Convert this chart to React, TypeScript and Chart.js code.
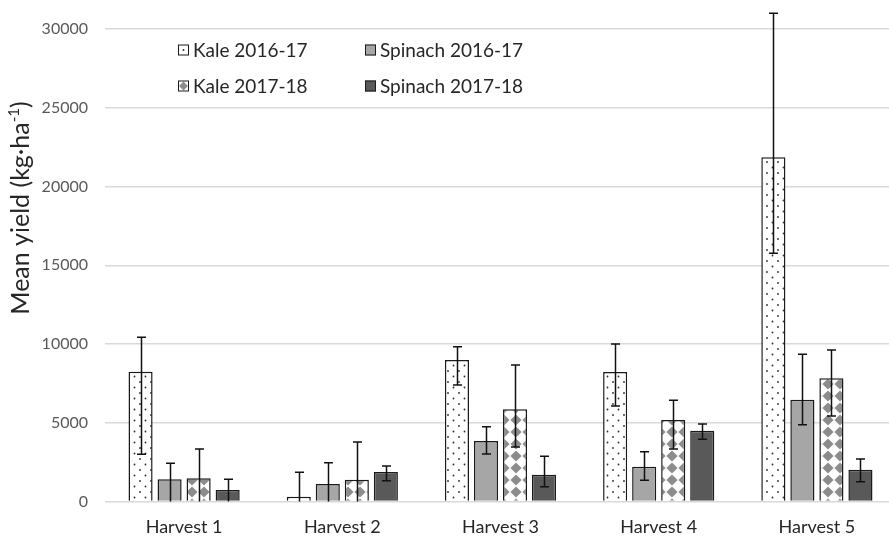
import React, { useEffect, useRef } from 'react';
import { Chart, registerables } from 'chart.js';

Chart.register(...registerables);

// Harvest categories along the x axis
const harvests = ['Harvest 1', 'Harvest 2', 'Harvest 3', 'Harvest 4', 'Harvest 5'];

// Mean yields (kg·ha⁻¹) with upper / lower ends of the error bars
const kale1617 = [8240, 305, 8985, 8220, 21850];
const kale1617Hi = [10425, 1855, 9830, 10000, 31000];
const kale1617Lo = [3000, 0, 7400, 6060, 15760];

const spinach1617 = [1410, 1110, 3840, 2210, 6465];
const spinach1617Hi = [2425, 2465, 4750, 3160, 9345];
const spinach1617Lo = [0, 0, 3015, 1345, 4875];

const kale1718 = [1475, 1385, 5855, 5175, 7820];
const kale1718Hi = [3335, 3780, 8665, 6425, 9620];
const kale1718Lo = [0, 0, 3460, 3335, 5430];

const spinach1718 = [730, 1875, 1700, 4495, 2020];
const spinach1718Hi = [1410, 2255, 2870, 4920, 2700];
const spinach1718Lo = [0, 1320, 940, 3950, 1255];

const yTicks = [0, 5000, 10000, 15000, 20000, 25000, 30000];

const seriesNames = ['Kale 2016-17', 'Spinach 2016-17', 'Kale 2017-18', 'Spinach 2017-18'];

const FONT = 'Lato, "Open Sans", sans-serif';
const LIGHT_GREY = '#a6a6a6';
const DARK_GREY = '#595959';
const DIAMOND_GREY = '#8c8c8c';
const EDGE = '#1a1a1a';

function dotPattern(ctx: CanvasRenderingContext2D): CanvasPattern {
  const c = document.createElement('canvas');
  c.width = 11;
  c.height = 11;
  const g = c.getContext('2d')!;
  g.fillStyle = '#ffffff';
  g.fillRect(0, 0, 11, 11);
  g.fillStyle = '#2b2b2b';
  g.beginPath();
  g.arc(2.5, 2.5, 0.9, 0, Math.PI * 2);
  g.arc(8, 8, 0.9, 0, Math.PI * 2);
  g.fill();
  return ctx.createPattern(c, 'repeat')!;
}

// Diagonal checkerboard: grey diamonds at the tile corners, white between
function diamondPattern(ctx: CanvasRenderingContext2D): CanvasPattern {
  const s = 12;
  const h = 5.6;
  const c = document.createElement('canvas');
  c.width = s;
  c.height = s;
  const g = c.getContext('2d')!;
  g.fillStyle = '#ffffff';
  g.fillRect(0, 0, s, s);
  g.fillStyle = DIAMOND_GREY;
  const centres = [
    [0, 0],
    [s, 0],
    [0, s],
    [s, s],
  ];
  for (const [cx, cy] of centres) {
    g.beginPath();
    g.moveTo(cx, cy - h);
    g.lineTo(cx + h, cy);
    g.lineTo(cx, cy + h);
    g.lineTo(cx - h, cy);
    g.closePath();
    g.fill();
  }
  return ctx.createPattern(c, 'repeat')!;
}

const errorHi = [kale1617Hi, spinach1617Hi, kale1718Hi, spinach1718Hi];
const errorLo = [kale1617Lo, spinach1617Lo, kale1718Lo, spinach1718Lo];

// Whiskers drawn over the bars; may run above the top of the plot
const errorBarPlugin = {
  id: 'errorBars',
  afterDatasetsDraw(chart: any) {
    const ctx: CanvasRenderingContext2D = chart.ctx;
    const y = chart.scales.y;
    ctx.save();
    ctx.strokeStyle = '#111111';
    ctx.lineWidth = 1.5;
    chart.data.datasets.forEach((_ds: any, di: number) => {
      const meta = chart.getDatasetMeta(di);
      meta.data.forEach((bar: any, i: number) => {
        const hi = errorHi[di][i];
        const lo = errorLo[di][i];
        const x = Math.round(bar.x) + 0.5;
        const yHi = y.getPixelForValue(hi);
        const yLo = y.getPixelForValue(Math.max(lo, 0));
        ctx.beginPath();
        ctx.moveTo(x, yHi);
        ctx.lineTo(x, yLo);
        ctx.moveTo(x - 4.5, yHi);
        ctx.lineTo(x + 4.5, yHi);
        if (lo > 0) {
          ctx.moveTo(x - 4.5, yLo);
          ctx.lineTo(x + 4.5, yLo);
        }
        ctx.stroke();
      });
    });
    ctx.restore();
  },
};

// Legend in two columns inside the plot, plus the rotated y-axis title
const decorPlugin = {
  id: 'decor',
  afterDraw(chart: any) {
    const ctx: CanvasRenderingContext2D = chart.ctx;
    ctx.save();

    const boxes = [
      { x: 178, y: 50 },
      { x: 365, y: 50 },
      { x: 178, y: 86 },
      { x: 365, y: 86 },
    ];
    ctx.font = `19px ${FONT}`;
    ctx.textBaseline = 'middle';
    ctx.textAlign = 'left';
    boxes.forEach((b, i) => {
      const bx = b.x;
      const by = b.y - 5.5;
      const size = 11;
      if (i === 0) {
        ctx.fillStyle = '#ffffff';
        ctx.fillRect(bx, by, size, size);
        ctx.fillStyle = '#333333';
        ctx.beginPath();
        ctx.arc(bx + size / 2, by + size / 2, 1, 0, Math.PI * 2);
        ctx.fill();
      } else if (i === 2) {
        ctx.fillStyle = '#ffffff';
        ctx.fillRect(bx, by, size, size);
        ctx.fillStyle = DIAMOND_GREY;
        ctx.beginPath();
        ctx.moveTo(bx + size / 2, by + 1);
        ctx.lineTo(bx + size - 1, by + size / 2);
        ctx.lineTo(bx + size / 2, by + size - 1);
        ctx.lineTo(bx + 1, by + size / 2);
        ctx.closePath();
        ctx.fill();
      } else {
        ctx.fillStyle = i === 1 ? LIGHT_GREY : DARK_GREY;
        ctx.fillRect(bx, by, size, size);
      }
      ctx.strokeStyle = EDGE;
      ctx.lineWidth = 1;
      ctx.strokeRect(bx + 0.5, by + 0.5, size - 1, size - 1);
      ctx.fillStyle = '#262626';
      ctx.fillText(seriesNames[i], bx + 15, b.y + 1);
    });

    // y-axis title with a superscript exponent
    ctx.translate(21, 208);
    ctx.rotate(-Math.PI / 2);
    ctx.fillStyle = '#262626';
    ctx.textBaseline = 'middle';
    const main = 'Mean yield (kg·ha';
    const sup = '-1';
    const close = ')';
    const big = `25px ${FONT}`;
    const small = `15px ${FONT}`;
    ctx.font = big;
    const wMain = ctx.measureText(main).width;
    const wClose = ctx.measureText(close).width;
    ctx.font = small;
    const wSup = ctx.measureText(sup).width;
    const total = wMain + wSup + wClose;
    let x = -total / 2;
    ctx.textAlign = 'left';
    ctx.font = big;
    ctx.fillText(main, x, 0);
    x += wMain;
    ctx.font = small;
    ctx.fillText(sup, x, -7);
    x += wSup;
    ctx.font = big;
    ctx.fillText(close, x, 0);

    ctx.restore();
  },
};

export default function App() {
  const canvasRef = useRef<HTMLCanvasElement | null>(null);

  useEffect(() => {
    const canvas = canvasRef.current;
    if (!canvas) return;
    const ctx = canvas.getContext('2d')!;
    const dots = dotPattern(ctx);
    const diamonds = diamondPattern(ctx);

    const common = {
      borderColor: EDGE,
      borderWidth: 1.5,
      categoryPercentage: 0.734,
      barPercentage: 0.83,
    };

    const chart = new Chart(canvas, {
      type: 'bar',
      data: {
        labels: harvests,
        datasets: [
          { label: seriesNames[0], data: kale1617, backgroundColor: dots, ...common },
          { label: seriesNames[1], data: spinach1617, backgroundColor: LIGHT_GREY, ...common },
          { label: seriesNames[2], data: kale1718, backgroundColor: diamonds, ...common },
          { label: seriesNames[3], data: spinach1718, backgroundColor: DARK_GREY, ...common },
        ],
      },
      options: {
        animation: false,
        responsive: false,
        devicePixelRatio: 1,
        layout: { padding: { left: 0, top: 29, right: 1, bottom: 0 } },
        plugins: {
          legend: { display: false },
          tooltip: { enabled: false },
        },
        scales: {
          x: {
            grid: { display: false, drawTicks: false },
            border: { display: false },
            ticks: {
              color: '#262626',
              font: { family: FONT, size: 18 },
              padding: 15,
            },
            afterFit(scale: any) {
              scale.height = 40.5;
            },
          },
          y: {
            min: 0,
            max: 30000,
            afterBuildTicks(scale: any) {
              scale.ticks = yTicks.map((v) => ({ value: v }));
            },
            grid: { color: '#d9d9d9', lineWidth: 1.5, drawTicks: false },
            border: { display: false },
            ticks: {
              color: DARK_GREY,
              font: { family: FONT, size: 16 },
              padding: 17,
              callback: (v: any) => String(v),
            },
            afterFit(scale: any) {
              scale.width = 105;
            },
          },
        },
      },
      plugins: [errorBarPlugin, decorPlugin],
    });

    return () => chart.destroy();
  }, []);

  return (
    <div
      style={{
        position: 'fixed',
        left: 0,
        top: 0,
        width: 889,
        height: 542,
        overflow: 'hidden',
        background: '#ffffff',
      }}
    >
      <canvas ref={canvasRef} width={897} height={542} style={{ display: 'block' }} />
    </div>
  );
}
